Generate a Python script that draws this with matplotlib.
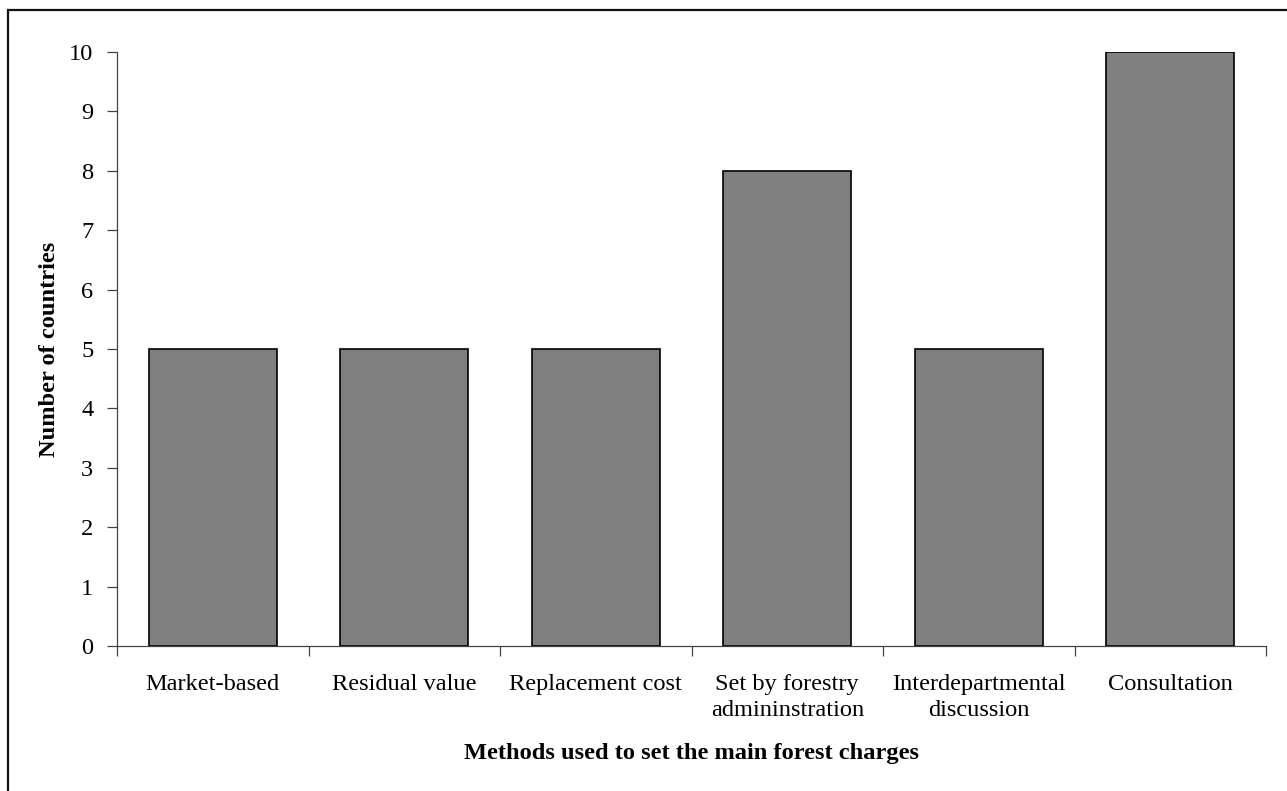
import numpy as np
import matplotlib
matplotlib.use('Agg')
import matplotlib.pyplot as plt
from matplotlib.patches import Rectangle

plt.rcParams.update({
    'font.family': 'serif',
    'font.serif': ['Liberation Serif', 'Times New Roman', 'DejaVu Serif'],
    'font.size': 17.6,
})

methods = ['Market-based', 'Residual value', 'Replacement cost',
           'Set by forestry\nadmininstration', 'Interdepartmental\ndiscussion',
           'Consultation']
countries = [5, 5, 5, 8, 5, 10]

W, H = 1287, 791
fig = plt.figure(figsize=(W / 100, H / 100), dpi=100)

# outer chart frame (runs off the right and bottom edges)
fig.patches.append(Rectangle((8 / W, -0.1), 1.2, 1 - 10 / H + 0.1,
                             transform=fig.transFigure, fill=False,
                             edgecolor='#111111', linewidth=1.6))

ax_w, ax_h = 1266 - 117, 646 - 52
ax = fig.add_axes([117 / W, 1 - 646 / H, ax_w / W, ax_h / H])

x = np.arange(len(methods))
ax.bar(x, countries, width=0.667, color='#808080', edgecolor='black', linewidth=1.2, zorder=2)

ax.set_xlim(-0.5, len(methods) - 0.5)
ax.set_ylim(0, 10)
ax.set_yticks(range(0, 11))

# category boundaries get the tick marks, centres get the labels
ax.set_xticks(np.arange(-0.5, len(methods)), labels=[''] * (len(methods) + 1))
ax.set_xticks(x, labels=methods, minor=True)
ax.tick_params(axis='x', which='major', direction='out', length=7, width=0.9, color='#444444')
ax.tick_params(axis='x', which='minor', length=0, pad=20)
ax.tick_params(axis='y', direction='out', length=7, width=0.9, color='#444444', pad=10)
for lbl in ax.get_xticklabels(minor=True):
    lbl.set_linespacing(1.32)

for s in ['top', 'right']:
    ax.spines[s].set_visible(False)
for s in ['left', 'bottom']:
    ax.spines[s].set_color('#444444')
    ax.spines[s].set_linewidth(0.9)

ax.set_ylabel('Number of countries', fontweight='bold', va='center')
ax.yaxis.set_label_coords((50 - 117) / ax_w, 0.5)
ax.set_xlabel('Methods used to set the main forest charges', fontweight='bold', va='center')
ax.xaxis.set_label_coords(0.5, -(754 - 646) / ax_h)

fig.savefig('out.png', dpi=100)
